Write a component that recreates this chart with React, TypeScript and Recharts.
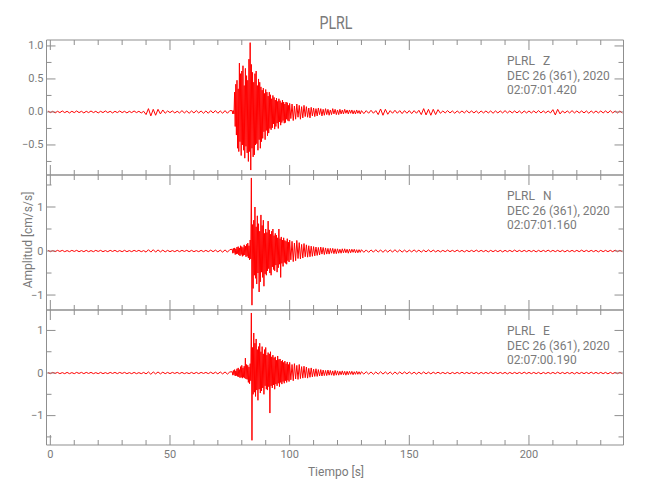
import React from 'react';
import { LineChart, Line, XAxis, YAxis } from 'recharts';

const AXIS_COLOR = '#8f8f8f';
const TEXT_COLOR = '#7a7a7a';
const TRACE_COLOR = '#ff0000';
const FONT = 'Roboto, "DejaVu Sans", sans-serif';

const STATION = 'PLRL';
const DATE_TEXT = 'DEC 26 (361), 2020';
const X_LABEL = 'Tiempo [s]';
const Y_LABEL = 'Amplitud [cm/s/s]';

const X_DOMAIN: [number, number] = [-1.6, 239.5];
const xTicks = [0, 10, 20, 30, 40, 50, 60, 70, 80, 90, 100, 110, 120, 130, 140, 150, 160, 170, 180, 190, 200, 210, 220, 230];

// Sampling of the traces: pre-event (1 s), strong shaking (0.25 s), early coda (0.5 s), late coda (1 s)
const PRE_START = -1;
const MAIN_A_START = 76;
const MAIN_B_START = 100;
const POST_START = 131;

// ---------- Z component ----------
const zPre = [
  0.015, -0.01, 0.01, -0.015, 0.01, -0.01, 0.015, -0.01, 0.01, -0.015,
  0.01, -0.01, 0.015, -0.01, 0.01, -0.015, 0.01, -0.01, 0.015, -0.01,
  0.01, -0.015, 0.01, -0.01, 0.015, -0.01, 0.01, -0.015, 0.01, -0.01,
  0.015, -0.01, 0.01, -0.015, 0.01, -0.01, 0.015, -0.01, 0.01, -0.015,
  0.01,
  -0.04, 0.05, -0.06, 0.04, -0.05, 0.04, -0.03, 0.03, -0.02,
  0.015, -0.01, 0.015, -0.015, 0.01, -0.015, 0.02, -0.015, 0.015, -0.02,
  0.015, -0.015, 0.02, -0.015, 0.015, -0.02, 0.015, -0.02, 0.02, -0.015,
  0.02, -0.02, 0.015, -0.02, 0.02, -0.02, 0.02,
];
const zMainA = [
  0.02, -0.03, 0.02, -0.03,
  0.30, -0.22, 0.42, -0.35,
  0.48, -0.55, 0.35, -0.60, 0.74, -0.45, 0.58, -0.66,
  0.62, -0.50, 0.70, -0.58, 0.40, -0.70, 0.66, -0.52,
  0.55, -0.62, 0.48, -0.75, 0.80, -0.60, 1.05, -0.88,
  0.72, -0.55, 0.60, -0.68, 0.45, -0.65, 0.58, -0.50,
  0.62, -0.48, 0.40, -0.58, 0.50, -0.42, 0.45, -0.55,
  0.38, -0.45, 0.33, -0.40, 0.36, -0.30, 0.28, -0.42,
  0.34, -0.28, 0.30, -0.36, 0.24, -0.32, 0.30, -0.25,
  0.26, -0.27, 0.20, -0.24, 0.25, -0.18, 0.22, -0.26,
  0.18, -0.22, 0.21, -0.17, 0.16, -0.25, 0.20, -0.15,
  0.17, -0.20, 0.14, -0.16, 0.18, -0.13, 0.15, -0.17,
  0.12, -0.16, 0.15, -0.11, 0.14, -0.13, 0.10, -0.14,
];
const zMainB = [
  0.13, -0.10, 0.12, -0.13, 0.09, -0.11, 0.12, -0.08, 0.10, -0.11,
  0.08, -0.09, 0.10, -0.07, 0.08, -0.08, 0.06, -0.09, 0.07, -0.06,
  0.06, -0.07, 0.05, -0.06, 0.06, -0.04, 0.05, -0.06, 0.04, -0.05,
  0.05, -0.04, 0.04, -0.05, 0.03, -0.04, 0.05, -0.03, 0.04, -0.04,
  0.03, -0.04, 0.04, -0.03, 0.03, -0.03, 0.04, -0.02, 0.03, -0.03,
  0.03, -0.02, 0.03, -0.03, 0.02, -0.03, 0.03, -0.02, 0.02, -0.03,
  0.02,
];
const zPost = [
  -0.025, 0.02, -0.02, 0.025, -0.02, 0.02,
  -0.04, 0.045, -0.05, 0.04, -0.035,
  0.02, -0.02, 0.025, -0.02, 0.02, -0.025, 0.02, -0.02, 0.02, -0.025, 0.02, -0.02, 0.025,
  -0.04, 0.05, -0.045, 0.04, -0.05, 0.04, -0.04, 0.035,
  -0.02, 0.015, -0.015, 0.02, -0.015, 0.015, -0.02, 0.015, -0.015, 0.015,
  -0.015, 0.02, -0.015, 0.015, -0.015, 0.015, -0.02, 0.015, -0.015, 0.015,
  -0.015, 0.015, -0.02, 0.015, -0.015, 0.015, -0.015, 0.02, -0.015, 0.015,
  -0.015, 0.015, -0.015, 0.015, -0.02, 0.015, -0.015, 0.015, -0.015, 0.015,
  -0.015, 0.02, -0.015, 0.015, -0.015, 0.015, -0.015,
  0.035, -0.045, 0.04, -0.03,
  0.015, -0.015, 0.015, -0.015, 0.02, -0.015, 0.015, -0.015, 0.015, -0.015,
  0.015, -0.02, 0.015, -0.015, 0.015, -0.015, 0.015, -0.015, 0.015, -0.015,
  0.02, -0.015, 0.015, -0.015, 0.015, -0.015,
];

// ---------- N component ----------
const nPre = [
  0.015, -0.015, 0.01, -0.015, 0.015, -0.01, 0.015, -0.015, 0.01, -0.015,
  0.015, -0.01, 0.015, -0.015, 0.01, -0.015, 0.015, -0.015, 0.01, -0.015,
  0.015, -0.01, 0.015, -0.015, 0.01, -0.015, 0.015, -0.01, 0.015, -0.015,
  0.01, -0.015, 0.015, -0.015, 0.01, -0.015, 0.015, -0.01, 0.015, -0.015,
  0.01,
  -0.025, 0.03, -0.025, 0.03, -0.025, 0.025, -0.02, 0.02, -0.02,
  0.015, -0.015, 0.01, -0.015, 0.015, -0.015, 0.015, -0.01, 0.015, -0.015,
  0.015, -0.015, 0.01, -0.015, 0.015, -0.015, 0.015, -0.015, 0.02, -0.015,
  0.02, -0.02, 0.02, -0.025, 0.025, -0.025, 0.03,
];
const nMainA = [
  0.04, -0.05, 0.06, -0.04, 0.07, -0.08, 0.05, -0.07,
  0.09, -0.06, 0.10, -0.09, 0.07, -0.11, 0.12, -0.08,
  0.10, -0.12, 0.08, -0.10, 0.14, -0.09, 0.11, -0.13,
  0.15, -0.12, 0.18, -0.16, 0.12, -0.20, 0.25, -0.18,
  1.66, -1.23, 0.60, -0.85, 0.70, -0.55, 1.00, -0.62,
  0.55, -0.75, 0.80, -0.50, 0.62, -0.93, 0.45, -0.70,
  0.82, -0.48, 0.58, -0.60, 0.70, -0.80, 0.40, -0.52,
  0.50, -0.55, 0.42, -0.45, 0.68, -0.40, 0.48, -0.50,
  0.38, -0.55, 0.45, -0.36, 0.50, -0.42, 0.35, -0.45,
  0.40, -0.32, 0.36, -0.48, 0.30, -0.38, 0.50, -0.30,
  0.28, -0.60, 0.32, -0.28, 0.25, -0.35, 0.30, -0.26,
  0.24, -0.28, 0.22, -0.30, 0.28, -0.22, 0.20, -0.25,
];
const nMainB = [
  0.25, -0.20, 0.22, -0.24, 0.18, -0.22, 0.24, -0.17, 0.19, -0.18,
  0.15, -0.16, 0.17, -0.13, 0.14, -0.14, 0.12, -0.13, 0.11, -0.12,
  0.10, -0.11, 0.09, -0.10, 0.08, -0.09, 0.09, -0.07, 0.08, -0.08,
  0.07, -0.07, 0.06, -0.07, 0.06, -0.05, 0.06, -0.06, 0.05, -0.06,
  0.05, -0.05, 0.04, -0.05, 0.05, -0.04, 0.05, -0.04, 0.04, -0.05,
  0.04, -0.04, 0.04, -0.03, 0.04, -0.04, 0.03, -0.04, 0.03, -0.03,
  0.03,
];
const nPost = [
  -0.03, 0.025, -0.03, 0.025, -0.025, 0.03, -0.025, 0.025, -0.03, 0.025,
  -0.025, 0.025, -0.025, 0.03, -0.025, 0.025, -0.025, 0.02, -0.025, 0.02,
  -0.02, 0.025, -0.02, 0.02, -0.025, 0.02, -0.02, 0.025, -0.02, 0.02,
  -0.02, 0.015, -0.02, 0.015, -0.015, 0.02, -0.015, 0.015, -0.015, 0.02,
  -0.015, 0.015, -0.02, 0.015, -0.015, 0.015, -0.015, 0.02, -0.015, 0.015,
  -0.015, 0.015, -0.02, 0.015, -0.015, 0.015, -0.015, 0.015, -0.02, 0.015,
  -0.015, 0.015, -0.015, 0.02, -0.015, 0.015, -0.015, 0.015, -0.015, 0.015,
  -0.015, 0.015, -0.02, 0.015, -0.015, 0.015, -0.015, 0.02, -0.015, 0.015,
  -0.015, 0.015, -0.015, 0.015, -0.02, 0.015, -0.015, 0.015, -0.015, 0.015,
  -0.015, 0.02, -0.015, 0.015, -0.015, 0.015, -0.015, 0.015, -0.02, 0.015,
  -0.015, 0.015, -0.015, 0.015, -0.015, 0.02, -0.015, 0.015, -0.015,
];

// ---------- E component ----------
const ePre = [
  0.01, -0.015, 0.015, -0.01, 0.015, -0.015, 0.01, -0.015, 0.015, -0.015,
  0.01, -0.015, 0.015, -0.01, 0.015, -0.015, 0.015, -0.01, 0.015, -0.015,
  0.01, -0.015, 0.015, -0.015, 0.01, -0.015, 0.015, -0.01, 0.015, -0.015,
  0.015, -0.01, 0.015, -0.015, 0.01, -0.015, 0.015, -0.015, 0.01, -0.015,
  0.015,
  -0.02, 0.025, -0.03, 0.025, -0.02, 0.025, -0.02, 0.02, -0.015,
  0.015, -0.015, 0.015, -0.01, 0.015, -0.015, 0.015, -0.015, 0.01, -0.015,
  0.015, -0.015, 0.015, -0.015, 0.015, -0.01, 0.015, -0.015, 0.02, -0.015,
  0.02, -0.02, 0.025, -0.02, 0.025, -0.025, 0.025,
];
const eMainA = [
  0.03, -0.05, 0.06, -0.04, 0.08, -0.07, 0.05, -0.06,
  0.10, -0.08, 0.12, -0.09, 0.08, -0.11, 0.15, -0.10,
  0.18, -0.12, 0.12, -0.10, 0.16, -0.12, 0.35, -0.14,
  0.20, -0.15, 0.18, -0.22, 0.14, -0.25, 0.22, -0.18,
  1.41, -1.58, 0.60, -0.50, 0.94, -0.45, 0.70, -0.55,
  0.80, -0.40, 0.55, -0.64, 0.62, -0.38, 0.70, -0.47,
  0.50, -0.42, 0.62, -0.35, 0.45, -0.50, 0.55, -0.30,
  0.60, -0.38, 0.42, -0.40, 0.48, -0.32, 0.45, -0.94,
  0.50, -0.30, 0.38, -0.35, 0.42, -0.28, 0.36, -0.38,
  0.38, -0.26, 0.30, -0.30, 0.40, -0.24, 0.32, -0.32,
  0.33, -0.22, 0.28, -0.26, 0.30, -0.20, 0.25, -0.24,
  0.28, -0.18, 0.22, -0.22, 0.26, -0.17, 0.20, -0.20,
];
const eMainB = [
  0.25, -0.16, 0.20, -0.18, 0.22, -0.14, 0.18, -0.15, 0.20, -0.13,
  0.15, -0.12, 0.16, -0.11, 0.14, -0.12, 0.11, -0.10, 0.12, -0.09,
  0.09, -0.08, 0.10, -0.08, 0.08, -0.07, 0.08, -0.07, 0.07, -0.06,
  0.06, -0.06, 0.07, -0.05, 0.06, -0.05, 0.05, -0.06, 0.06, -0.05,
  0.05, -0.05, 0.04, -0.04, 0.05, -0.04, 0.04, -0.05, 0.04, -0.04,
  0.04, -0.03, 0.04, -0.04, 0.03, -0.03, 0.04, -0.03, 0.03, -0.03,
  0.03,
];
const ePost = [
  -0.025, 0.03, -0.025, 0.025, -0.03, 0.025, -0.025, 0.03, -0.025, 0.025,
  -0.025, 0.025, -0.03, 0.025, -0.025, 0.025, -0.02, 0.025, -0.02, 0.025,
  -0.02, 0.02, -0.025, 0.02, -0.02, 0.025, -0.02, 0.02, -0.02, 0.02,
  -0.015, 0.02, -0.015, 0.015, -0.015, 0.015, -0.02, 0.015, -0.015, 0.015,
  -0.015, 0.02, -0.015, 0.015, -0.015, 0.015, -0.015, 0.015, -0.02, 0.015,
  -0.015, 0.015, -0.015, 0.02, -0.015, 0.015, -0.015, 0.015, -0.015, 0.015,
  -0.02, 0.015, -0.015, 0.015, -0.015, 0.015, -0.015, 0.02, -0.015, 0.015,
  -0.015, 0.015, -0.015, 0.015, -0.02, 0.015, -0.015, 0.015, -0.015, 0.015,
  -0.015, 0.02, -0.015, 0.015, -0.015, 0.015, -0.015, 0.015, -0.02, 0.015,
  -0.015, 0.015, -0.015, 0.015, -0.015, 0.02, -0.015, 0.015, -0.015, 0.015,
  -0.015, 0.015, -0.02, 0.015, -0.015, 0.015, -0.015, 0.015, -0.015,
];

// ---------- panel axes ----------
const zDomain: [number, number] = [-0.955, 1.09];
const nDomain: [number, number] = [-1.34, 1.727];
const eDomain: [number, number] = [-1.69, 1.48];
const zTicks = [-0.75, -0.5, -0.25, 0, 0.25, 0.5, 0.75, 1.0];
const nTicks = [-1, -0.5, 0, 0.5, 1, 1.5];
const eTicks = [-1.5, -1, -0.5, 0, 0.5, 1];

type Pt = { t: number; v: number };
function segment(t0: number, dt: number, vals: number[]): Pt[] {
  return vals.map((v, i) => ({ t: Math.round((t0 + i * dt) * 100) / 100, v }));
}
function trace(pre: number[], mainA: number[], mainB: number[], post: number[]): Pt[] {
  return [
    ...segment(PRE_START, 1, pre),
    ...segment(MAIN_A_START, 0.25, mainA),
    ...segment(MAIN_B_START, 0.5, mainB),
    ...segment(POST_START, 1, post),
  ];
}

const minus = (s: string) => s.replace('-', '\u2212');

type PanelDef = {
  top: number;
  data: Pt[];
  domain: [number, number];
  ticks: number[];
  majorStep: number;
  fmt: (v: number) => string;
  comp: string;
  time: string;
  showXLabels: boolean;
};

const PANEL_H = 135;

const panels: PanelDef[] = [
  { top: 40, data: trace(zPre, zMainA, zMainB, zPost), domain: zDomain, ticks: zTicks, majorStep: 0.5, fmt: (v) => minus(v.toFixed(1)), comp: 'Z', time: '02:07:01.420', showXLabels: false },
  { top: 175, data: trace(nPre, nMainA, nMainB, nPost), domain: nDomain, ticks: nTicks, majorStep: 1, fmt: (v) => minus(String(v)), comp: 'N', time: '02:07:01.160', showXLabels: false },
  { top: 310, data: trace(ePre, eMainA, eMainB, ePost), domain: eDomain, ticks: eTicks, majorStep: 1, fmt: (v) => minus(String(v)), comp: 'E', time: '02:07:00.190', showXLabels: true },
];

function isMultiple(v: number, step: number) {
  const r = v / step;
  return Math.abs(r - Math.round(r)) < 1e-6;
}

function makeXTick(dir: number, showLabel: boolean) {
  return (props: any) => {
    const { x, y, payload } = props;
    const v = payload.value as number;
    const major = isMultiple(v, 50);
    const len = major ? 10 : 5;
    return (
      <g>
        <line x1={x} x2={x} y1={y} y2={y + dir * len} stroke={AXIS_COLOR} strokeWidth={1} />
        {showLabel && major ? (
          <text x={x} y={y + 9} textAnchor="middle" dominantBaseline="central" fill={TEXT_COLOR} fontSize={11} fontFamily={FONT}>
            {v}
          </text>
        ) : null}
      </g>
    );
  };
}

function makeYTick(dir: number, showLabel: boolean, majorStep: number, fmt: (v: number) => string) {
  return (props: any) => {
    const { x, y, payload } = props;
    const v = payload.value as number;
    const major = isMultiple(v, majorStep);
    const len = major ? 9 : 5;
    return (
      <g>
        <line x1={x} x2={x + dir * len} y1={y} y2={y} stroke={AXIS_COLOR} strokeWidth={1} />
        {showLabel && major ? (
          <text x={x - 3} y={y} textAnchor="end" dominantBaseline="central" fill={TEXT_COLOR} fontSize={11} fontFamily={FONT}>
            {fmt(v)}
          </text>
        ) : null}
      </g>
    );
  };
}

function PanelChart({ p }: { p: PanelDef }) {
  const bottomH = p.showXLabels ? 40 : 1;
  const axisLine = { stroke: AXIS_COLOR, strokeWidth: 1 };
  return (
    <div style={{ position: 'absolute', left: 0, top: p.top - 5 }}>
      <LineChart width={650} height={5 + PANEL_H + bottomH + 4} data={p.data} margin={{ top: 4, right: 25.5, bottom: 4, left: 0 }}>
        <XAxis xAxisId="b" dataKey="t" type="number" domain={X_DOMAIN} allowDataOverflow ticks={xTicks} interval={0}
          height={bottomH} tickSize={0} tickMargin={0} tickLine={false} axisLine={axisLine} tick={makeXTick(-1, p.showXLabels)} />
        <XAxis xAxisId="t" orientation="top" dataKey="t" type="number" domain={X_DOMAIN} allowDataOverflow ticks={xTicks} interval={0}
          height={1} tickSize={0} tickMargin={0} tickLine={false} axisLine={axisLine} tick={makeXTick(1, false)} />
        <YAxis yAxisId="l" type="number" domain={p.domain} allowDataOverflow ticks={p.ticks} interval={0}
          width={46.5} tickSize={0} tickMargin={0} tickLine={false} axisLine={axisLine} tick={makeYTick(1, true, p.majorStep, p.fmt)} />
        <YAxis yAxisId="r" orientation="right" type="number" domain={p.domain} allowDataOverflow ticks={p.ticks} interval={0}
          width={1} tickSize={0} tickMargin={0} tickLine={false} axisLine={axisLine} tick={makeYTick(-1, false, p.majorStep, p.fmt)} />
        <Line xAxisId="b" yAxisId="l" type="linear" dataKey="v" stroke={TRACE_COLOR} strokeWidth={1} dot={false} activeDot={false} isAnimationActive={false} />
        <Line xAxisId="t" yAxisId="r" type="linear" dataKey="v" stroke="none" dot={false} activeDot={false} isAnimationActive={false} />
      </LineChart>
    </div>
  );
}

export default function App() {
  return (
    <div style={{ position: 'absolute', left: 0, top: 0, width: 650, height: 500, background: '#fff' }}>
      {panels.map((p) => (
        <PanelChart key={p.comp} p={p} />
      ))}
      <svg width={650} height={500} style={{ position: 'absolute', left: 0, top: 0, pointerEvents: 'none' }}>
        <text x={336} y={22} textAnchor="middle" dominantBaseline="central" fill={TEXT_COLOR} fontSize={19} fontFamily={FONT}
          textLength={33} lengthAdjust="spacingAndGlyphs">
          {STATION}
        </text>
        <text transform="translate(28,240) rotate(-90)" textAnchor="middle" dominantBaseline="central" fill={TEXT_COLOR} fontSize={12} fontFamily={FONT}>
          {Y_LABEL}
        </text>
        <text x={336} y={472} textAnchor="middle" dominantBaseline="central" fill={TEXT_COLOR} fontSize={12} fontFamily={FONT}>
          {X_LABEL}
        </text>
        {panels.map((p) => (
          <g key={p.comp} fill={TEXT_COLOR} fontSize={12} fontFamily={FONT}>
            <text x={507} y={p.top + 21} dominantBaseline="central">
              <tspan>{STATION}</tspan>
              <tspan x={543}>{p.comp}</tspan>
            </text>
            <text x={507} y={p.top + 35.5} dominantBaseline="central">{DATE_TEXT}</text>
            <text x={507} y={p.top + 50} dominantBaseline="central">{p.time}</text>
          </g>
        ))}
      </svg>
    </div>
  );
}
